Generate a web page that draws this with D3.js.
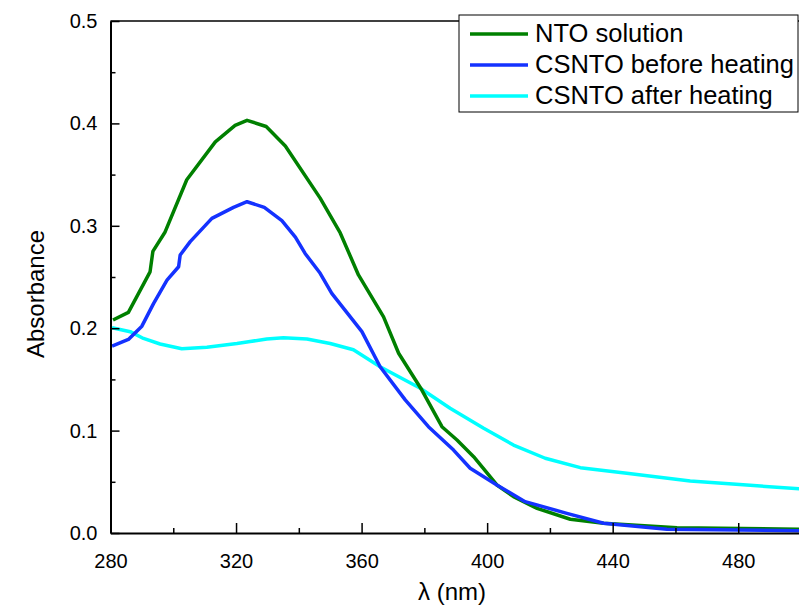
<!DOCTYPE html>
<html>
<head>
<meta charset="utf-8">
<script src="https://cdn.jsdelivr.net/npm/d3@7"></script>
<style>
  body { margin: 0; background: #fff; }
  svg { display: block; font-family: Arial, "Liberation Sans", sans-serif; }
</style>
</head>
<body>
<div class="chart"></div>
<script>
// wavelength (nm) / absorbance pairs
const ntoWave = [280.8, 285.7, 292.6, 293.5, 297.4, 304.3, 313.4, 319.7, 323.5, 329.6, 335.7, 346.8, 353.2, 359, 367, 371.8, 379.2, 385.6, 390.4, 395.7, 403.1, 408.4, 415.9, 426.5, 437.1, 460.5, 500];
const ntoAbs = [0.208, 0.2155, 0.255, 0.275, 0.294, 0.345, 0.382, 0.398, 0.403, 0.397, 0.378, 0.327, 0.293, 0.252, 0.211, 0.1755, 0.1396, 0.1038, 0.0908, 0.0745, 0.0469, 0.0355, 0.0241, 0.0134, 0.0095, 0.0052, 0.0036];

const beforeWave = [280.5, 285.7, 290, 293.7, 298, 301.7, 302.2, 305.4, 312.3, 319.2, 323.5, 329, 334.6, 338.9, 342, 346.8, 350.5, 356.4, 360.1, 365.9, 373.9, 381.3, 389.3, 394.6, 403.1, 412.1, 425.4, 437.1, 457.3, 500];
const beforeAbs = [0.1826, 0.189, 0.202, 0.224, 0.247, 0.26, 0.2715, 0.2845, 0.3073, 0.318, 0.3235, 0.318, 0.305, 0.289, 0.273, 0.2536, 0.234, 0.211, 0.1966, 0.1624, 0.13, 0.1038, 0.081, 0.0632, 0.0469, 0.0306, 0.0192, 0.0095, 0.0036, 0.0022];

const afterWave = [280.5, 286.3, 290.5, 295.8, 302.7, 310.7, 320.3, 324.5, 329.8, 335.1, 342.6, 350, 357.4, 365.9, 378.7, 388.2, 398.9, 408.4, 418.5, 429.7, 444.5, 464.7, 483.8, 500];
const afterAbs = [0.2005, 0.1966, 0.19, 0.1846, 0.18, 0.1813, 0.185, 0.187, 0.1895, 0.1907, 0.1895, 0.185, 0.179, 0.1624, 0.1413, 0.1218, 0.1022, 0.0859, 0.073, 0.0638, 0.0583, 0.0508, 0.0466, 0.043];

const seriesNames = ["NTO solution", "CSNTO before heating", "CSNTO after heating"];
const seriesColors = ["#008000", "#1432ff", "#00ffff"];

const xTicks = [280, 320, 360, 400, 440, 480];
const xMinor = [300, 340, 380, 420, 460, 500];
const yTicks = [0, 0.1, 0.2, 0.3, 0.4, 0.5];
const yMinor = [0.05, 0.15, 0.25, 0.35, 0.45];

const W = 799, H = 605;
const plot = { left: 110.5, right: 801, top: 21, bottom: 533 };

const x = d3.scaleLinear().domain([280, 500]).range([plot.left, plot.right]);
const y = d3.scaleLinear().domain([0, 0.5]).range([plot.bottom, plot.top]);

const svg = d3.select(".chart").append("svg")
  .attr("width", W)
  .attr("height", H);

svg.append("defs").append("clipPath")
  .attr("id", "clip")
  .append("rect")
  .attr("x", plot.left)
  .attr("y", plot.top)
  .attr("width", plot.right - plot.left)
  .attr("height", plot.bottom - plot.top);

const series = [
  d3.zip(ntoWave, ntoAbs),
  d3.zip(beforeWave, beforeAbs),
  d3.zip(afterWave, afterAbs)
];

const line = d3.line()
  .x(d => x(d[0]))
  .y(d => y(d[1]));

const lines = svg.append("g").attr("clip-path", "url(#clip)");
// after-heating goes underneath, like the reference
[2, 0, 1].forEach(i => {
  lines.append("path")
    .datum(series[i])
    .attr("fill", "none")
    .attr("stroke", seriesColors[i])
    .attr("stroke-width", 3.5)
    .attr("stroke-linejoin", "round")
    .attr("d", line);
});

// top frame line (right side is off the canvas)
svg.append("line")
  .attr("x1", plot.left).attr("x2", plot.right)
  .attr("y1", plot.top).attr("y2", plot.top)
  .attr("stroke", "#000").attr("stroke-width", 1.5);

// x axis, ticks inward
svg.append("g")
  .attr("transform", "translate(0," + plot.bottom + ")")
  .call(d3.axisBottom(x).tickValues(xTicks).tickSize(-10).tickPadding(21).tickSizeOuter(0));
svg.append("g")
  .attr("transform", "translate(0," + plot.bottom + ")")
  .call(d3.axisBottom(x).tickValues(xMinor).tickSize(-5).tickFormat("").tickSizeOuter(0))
  .select(".domain").remove();

// y axis, ticks inward
svg.append("g")
  .attr("transform", "translate(" + plot.left + ",0)")
  .call(d3.axisLeft(y).tickValues(yTicks).tickSize(-9).tickPadding(13).tickFormat(d3.format(".1f")).tickSizeOuter(0));
svg.append("g")
  .attr("transform", "translate(" + plot.left + ",0)")
  .call(d3.axisLeft(y).tickValues(yMinor).tickSize(-5).tickFormat("").tickSizeOuter(0))
  .select(".domain").remove();

svg.selectAll(".domain").attr("stroke-width", 2);
svg.selectAll(".tick line").attr("stroke-width", 1.5);
svg.selectAll(".tick text")
  .attr("font-size", 20)
  .attr("font-family", "Arial, 'Liberation Sans', sans-serif")
  .attr("fill", "#000");

// axis titles
svg.append("text")
  .attr("x", 452).attr("y", 600)
  .attr("text-anchor", "middle")
  .attr("font-size", 24)
  .text("λ (nm)");

svg.append("text")
  .attr("transform", "translate(44,294) rotate(-90)")
  .attr("text-anchor", "middle")
  .attr("font-size", 24)
  .text("Absorbance");

// legend
const legend = svg.append("g");
legend.append("rect")
  .attr("x", 459).attr("y", 15)
  .attr("width", 339).attr("height", 97)
  .attr("fill", "#fff")
  .attr("stroke", "#000")
  .attr("stroke-width", 1);

seriesNames.forEach((name, i) => {
  const ly = 34 + i * 31;
  legend.append("line")
    .attr("x1", 470).attr("x2", 528)
    .attr("y1", ly).attr("y2", ly)
    .attr("stroke", seriesColors[i])
    .attr("stroke-width", 3.5);
  legend.append("text")
    .attr("x", 535).attr("y", ly + 8)
    .attr("font-size", 25.5)
    .text(name);
});
</script>
</body>
</html>
